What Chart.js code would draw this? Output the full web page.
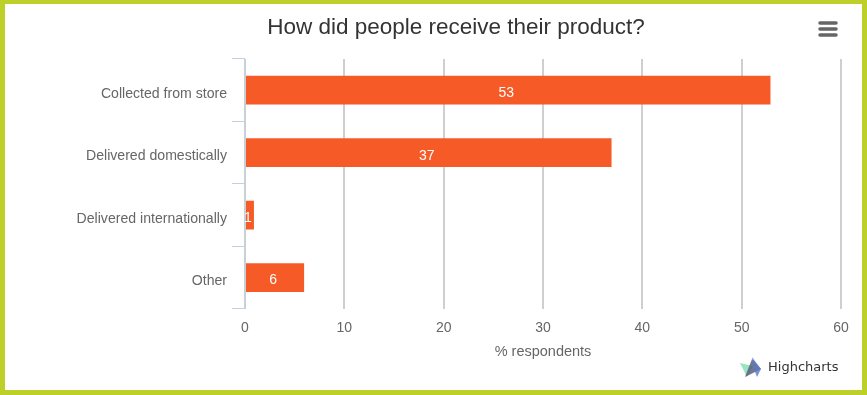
<!DOCTYPE html>
<html>
<head>
<meta charset="utf-8">
<title>How did people receive their product?</title>
<script src="https://cdn.jsdelivr.net/npm/chart.js@4"></script>
<style>
    html, body { margin: 0; padding: 0; background: #fff; }
    #frame { position: relative; width: 867px; height: 395px; overflow: hidden; }
    #frame::after {
        content: ""; position: absolute; left: 0; top: 0; right: 0; bottom: 0;
        border: solid #bdd02a; border-width: 4px 5px 5px 5px; pointer-events: none;
    }
    canvas { display: block; }
</style>
</head>
<body>
<div id="frame"><canvas id="chart" width="867" height="395"></canvas></div>
<script>
const categories = ['Collected from store', 'Delivered domestically', 'Delivered internationally', 'Other'];
const respondents = [52.9, 36.9, 0.9, 5.95];
const xTicks = [0, 10, 20, 30, 40, 50, 60];

const FONT = '"Liberation Sans", Arial, sans-serif';

// Value labels in the middle of each bar
const barLabels = {
    id: 'barLabels',
    afterDatasetsDraw(chart) {
        const ctx = chart.ctx;
        ctx.save();
        ctx.font = '14px ' + FONT;
        ctx.fillStyle = '#fff';
        ctx.textAlign = 'center';
        ctx.textBaseline = 'middle';
        chart.getDatasetMeta(0).data.forEach((bar, i) => {
            const mid = chart.scales.x.getPixelForValue(respondents[i] / 2);
            ctx.fillText(Math.round(respondents[i]), mid - 1.5, bar.y + 3);
        });
        ctx.restore();
    }
};

// Export menu icon and credits logo
const extras = {
    id: 'extras',
    afterDraw(chart) {
        const ctx = chart.ctx;
        ctx.save();
        ctx.strokeStyle = '#666';
        ctx.lineWidth = 3.5;
        ctx.lineCap = 'round';
        [23, 29, 35].forEach(y => {
            ctx.beginPath();
            ctx.moveTo(820, y);
            ctx.lineTo(836, y);
            ctx.stroke();
        });

        ctx.fillStyle = 'rgba(120,220,170,0.75)';
        ctx.beginPath();
        ctx.moveTo(740, 363); ctx.lineTo(753, 366); ctx.lineTo(747, 377);
        ctx.closePath(); ctx.fill();
        ctx.fillStyle = 'rgba(80,85,120,0.8)';
        ctx.beginPath();
        ctx.moveTo(745, 377); ctx.lineTo(752, 359); ctx.lineTo(761, 369);
        ctx.closePath(); ctx.fill();
        ctx.fillStyle = 'rgba(90,120,200,0.8)';
        ctx.beginPath();
        ctx.moveTo(752, 357); ctx.lineTo(761, 369); ctx.lineTo(757, 377); ctx.lineTo(754, 369);
        ctx.closePath(); ctx.fill();

        ctx.fillStyle = '#333';
        ctx.font = '13px "DejaVu Sans", Verdana, sans-serif';
        ctx.textAlign = 'left';
        ctx.textBaseline = 'middle';
        ctx.fillText('Highcharts', 768, 368);
        ctx.restore();
    }
};

new Chart(document.getElementById('chart'), {
    type: 'bar',
    data: {
        labels: categories,
        datasets: [{
            data: respondents,
            backgroundColor: '#f65a26',
            borderWidth: 0,
            categoryPercentage: 1,
            barPercentage: 0.46
        }]
    },
    options: {
        indexAxis: 'y',
        responsive: false,
        animation: false,
        layout: { padding: { left: 71, right: 26, top: 12, bottom: 34 } },
        plugins: {
            legend: { display: false },
            tooltip: { enabled: false },
            title: {
                display: true,
                text: 'How did people receive their product?',
                color: '#333',
                font: { family: FONT, size: 22.5, weight: 'normal' },
                padding: { top: 2, bottom: 18 }
            }
        },
        scales: {
            x: {
                min: 0,
                max: 60,
                afterBuildTicks(axis) { axis.ticks = xTicks.map(value => ({ value })); },
                border: { display: false },
                grid: { color: '#cfcfcf', lineWidth: 2, tickLength: 0 },
                ticks: {
                    color: '#666',
                    padding: 11,
                    maxRotation: 0,
                    font: { family: FONT, size: 14 }
                },
                title: {
                    display: true,
                    text: '% respondents',
                    color: '#666',
                    font: { family: FONT, size: 14.5 },
                    padding: { top: -4, bottom: 0 }
                }
            },
            y: {
                afterFit(axis) { axis.width = 174; },
                border: { display: true, color: '#c0d0e0', width: 1 },
                grid: { offset: true, drawOnChartArea: false, color: '#c0d0e0', tickLength: 13 },
                ticks: {
                    color: '#666',
                    padding: 5,
                    autoSkip: false,
                    labelOffset: 3.5,
                    font: { family: FONT, size: 14.1 }
                }
            }
        }
    },
    plugins: [barLabels, extras]
});
</script>
</body>
</html>
